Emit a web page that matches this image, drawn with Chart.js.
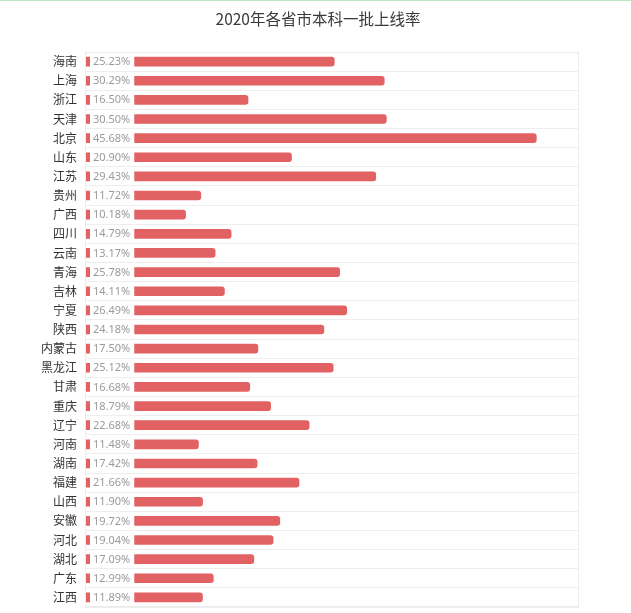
<!DOCTYPE html>
<html>
<head>
<meta charset="utf-8">
<script src="https://cdn.jsdelivr.net/npm/chart.js@4.4.0/dist/chart.umd.min.js"></script>
<style>
  html, body { margin: 0; padding: 0; background: #fff; }
  body { border-top: 1px solid #bfe6bf; width: 631px; height: 612px; overflow: hidden; }
  canvas { display: block; }
</style>
</head>
<body>
<canvas id="chart" width="631" height="612"></canvas>
<script>
// 2020 province first-batch admission rates
const chartTitle = '2020年各省市本科一批上线率';
const provinces = ['海南', '上海', '浙江', '天津', '北京', '山东', '江苏', '贵州', '广西', '四川',
    '云南', '青海', '吉林', '宁夏', '陕西', '内蒙古', '黑龙江', '甘肃', '重庆', '辽宁',
    '河南', '湖南', '福建', '山西', '安徽', '河北', '湖北', '广东', '江西'];
const rates = [25.23, 30.29, 16.50, 30.50, 45.68, 20.90, 29.43, 11.72, 10.18, 14.79,
    13.17, 25.78, 14.11, 26.49, 24.18, 17.50, 25.12, 16.68, 18.79, 22.68,
    11.48, 17.42, 21.66, 11.90, 19.72, 19.04, 17.09, 12.99, 11.89];
const axisMax = 50;

// value label sitting on a white patch at the start of each bar
const valueLabels = {
    id: 'valueLabels',
    afterDatasetsDraw(chart) {
        const ctx = chart.ctx;
        const meta = chart.getDatasetMeta(0);
        ctx.save();
        ctx.font = '11px "Noto Sans", sans-serif';
        ctx.textBaseline = 'middle';
        meta.data.forEach((bar, i) => {
            const text = rates[i].toFixed(2) + '%';
            const w = ctx.measureText(text).width;
            const x0 = bar.base + 5;
            ctx.fillStyle = '#fff';
            ctx.fillRect(x0, bar.y - bar.height / 2 - 1, w + 7, bar.height + 2);
            ctx.fillStyle = '#9a9a9a';
            ctx.fillText(text, x0 + 3, bar.y + 0.5);
        });
        ctx.restore();
    }
};

// light frame round the plot area, plus the title a bit right of centre
const areaFrame = {
    id: 'areaFrame',
    afterDraw(chart) {
        const { left, top, width, height } = chart.chartArea;
        const ctx = chart.ctx;
        ctx.save();
        ctx.strokeStyle = '#ececec';
        ctx.lineWidth = 1;
        ctx.strokeRect(left + 0.5, top + 0.5, width - 1, height - 1);

        ctx.font = '15.5px "Noto Sans CJK SC", sans-serif';
        ctx.fillStyle = '#3a3a3a';
        ctx.textAlign = 'center';
        ctx.textBaseline = 'middle';
        ctx.fillText(chartTitle, 318, 18);
        ctx.restore();
    }
};

new Chart(document.getElementById('chart'), {
    type: 'bar',
    data: {
        labels: provinces,
        datasets: [{
            data: rates,
            backgroundColor: '#e26163',
            barThickness: 9,
            borderRadius: 3,
            borderSkipped: 'start'
        }]
    },
    options: {
        indexAxis: 'y',
        responsive: false,
        animation: false,
        devicePixelRatio: 1,
        layout: { padding: { left: 0, right: 52, top: 51, bottom: 6 } },
        scales: {
            x: {
                display: false,
                min: 0,
                max: axisMax
            },
            y: {
                afterFit(scale) {
                    scale.width = 85;
                    scale.paddingTop = 0;
                    scale.paddingBottom = 0;
                },
                grid: { color: '#eeeeee', drawTicks: false },
                border: { display: false },
                ticks: {
                    padding: 8,
                    color: '#333',
                    font: { size: 12, family: '"Noto Sans CJK SC", sans-serif' }
                }
            }
        },
        plugins: {
            legend: { display: false },
            tooltip: { enabled: false },
            title: { display: false }
        }
    },
    plugins: [valueLabels, areaFrame]
});
</script>
</body>
</html>
